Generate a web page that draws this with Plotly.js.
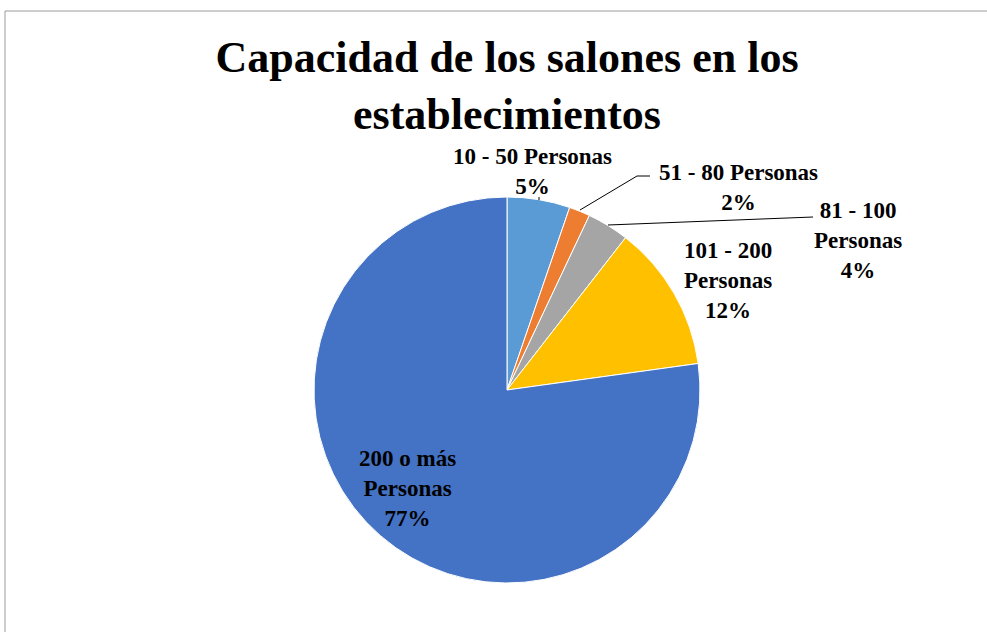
<!DOCTYPE html>
<html>
<head>
<meta charset="utf-8">
<script src="https://cdn.plot.ly/plotly-3.0.1.min.js"></script>
<style>
  html, body { margin: 0; padding: 0; background: #fff; }
  #chart { width: 987px; height: 632px; }
</style>
</head>
<body>
<div id="chart"></div>
<script>
// capacity groups, clockwise from 12 o'clock
var categories = ['10 - 50 Personas', '51 - 80 Personas', '81 - 100 Personas', '101 - 200 Personas', '200 o más Personas'];
var labelText = ['10 - 50 Personas', '51 - 80 Personas', '81 - 100<br>Personas', '101 - 200<br>Personas', '200 o más<br>Personas'];
var counts = [3, 1, 2, 7, 44];
var colors = ['#5B9BD5', '#ED7D31', '#A5A5A5', '#FFC000', '#4472C4'];

var W = 987, H = 632;
function px(x) { return x / W; }
function py(y) { return 1 - y / H; }

var total = 0;
for (var i = 0; i < counts.length; i++) total += counts[i];

// label placement (pixels), like the data labels in the original
var labelPos = [[532, 171], [738, 187], [858, 240], [728, 281], [407, 488]];

var annotations = [];
for (var i = 0; i < categories.length; i++) {
    annotations.push({
        xref: 'paper', yref: 'paper',
        x: px(labelPos[i][0]), y: py(labelPos[i][1]),
        xanchor: 'center', yanchor: 'middle',
        text: labelText[i] + '<br>' + Math.round(counts[i] / total * 100) + '%',
        showarrow: false,
        font: {family: 'Liberation Serif, Times New Roman, serif', size: 23, color: '#000', weight: 'bold'}
    });
}

var shapes = [
    // chart area frame
    {type: 'rect', xref: 'paper', yref: 'paper', x0: px(5), x1: 1.05, y0: -0.05, y1: py(11),
        line: {color: '#9a9a9a', width: 1}},
    // leader lines
    {type: 'path', xref: 'paper', yref: 'paper',
        path: 'M' + px(539) + ',' + py(197) + ' L' + px(539) + ',' + py(200),
        line: {color: '#000', width: 1}},
    {type: 'path', xref: 'paper', yref: 'paper',
        path: 'M' + px(580) + ',' + py(210) + ' L' + px(637) + ',' + py(176) + ' L' + px(650) + ',' + py(176),
        line: {color: '#000', width: 1}},
    {type: 'path', xref: 'paper', yref: 'paper',
        path: 'M' + px(608) + ',' + py(225) + ' L' + px(813) + ',' + py(217),
        line: {color: '#000', width: 1}}
];

var data0 = [{
    type: 'pie',
    labels: categories,
    values: counts,
    sort: false,
    direction: 'clockwise',
    rotation: 0,
    textinfo: 'none',
    hoverinfo: 'skip',
    marker: {colors: colors, line: {color: '#fff', width: 1}},
    domain: {x: [px(314), px(700)], y: [py(583), py(197)]}
}];

var layout1 = {
    width: W, height: H,
    margin: {t: 0, b: 0, l: 0, r: 0},
    paper_bgcolor: '#fff',
    showlegend: false,
    title: {
        text: 'Capacidad de los salones en los<br>establecimientos',
        x: px(507), xanchor: 'center',
        y: py(72), yanchor: 'middle',
        font: {family: 'Liberation Serif, Times New Roman, serif', size: 44, color: '#000', weight: 'bold'}
    },
    annotations: annotations,
    shapes: shapes
};

Plotly.newPlot('chart', data0, layout1, {staticPlot: true});
</script>
</body>
</html>
